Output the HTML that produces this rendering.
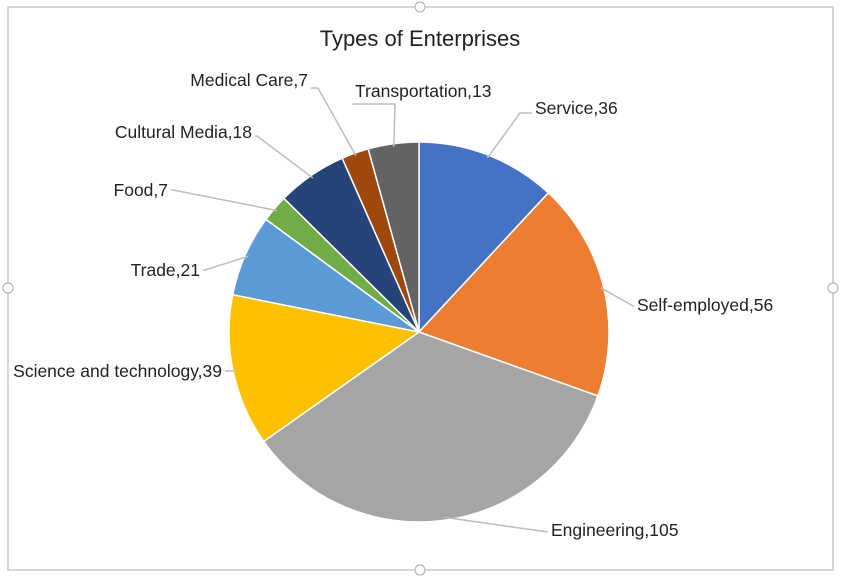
<!DOCTYPE html>
<html><head><meta charset="utf-8"><style>
body{margin:0;background:#fff;}
svg{display:block;font-family:"Liberation Sans",sans-serif;}
</style></head><body>
<svg id="chart" width="850" height="577">
<rect x="8" y="7" width="825" height="563" fill="#fff" stroke="#c8c8c8" stroke-width="1.5"/>
<circle cx="420" cy="7" r="5" fill="#fff" stroke="#aaa"/>
<circle cx="420" cy="570" r="5" fill="#fff" stroke="#aaa"/>
<circle cx="8" cy="288" r="5" fill="#fff" stroke="#aaa"/>
<circle cx="833" cy="288" r="5" fill="#fff" stroke="#aaa"/>
<text x="420" y="46" text-anchor="middle" font-size="22" fill="#222">Types of Enterprises</text>
<g id="slices"></g>
<g id="labels"></g>
</svg>
<script>
const categories=["Service","Self-employed","Engineering","Science and technology","Trade","Food","Cultural Media","Medical Care","Transportation"];
const values=[36,56,105,39,21,7,18,7,13];
const colors=["#4472c4","#ed7d31","#a5a5a5","#ffc000","#5b9bd5","#70ad47","#264478","#9e480e","#636363"];
const labelPos=[[535,114,"start"],[637,311,"start"],[551,536,"start"],[222,377,"end"],[200,276,"end"],[168,196,"end"],[252,138,"end"],[308,86,"end"],[355,97,"start"]];
const elbows=[[520,113],[633,306],[548,532],[228,371],[205,270],[173,190],[257,136],[318,88],[395,104]];
const cx=419,cy=332,r=190;
const ns="http://www.w3.org/2000/svg";
const total=values.reduce((a,b)=>a+b,0);
let a0=-Math.PI/2;
const sg=document.getElementById('slices'),lg=document.getElementById('labels');
values.forEach((v,i)=>{
  const a1=a0+v/total*2*Math.PI;
  const x0=cx+r*Math.cos(a0),y0=cy+r*Math.sin(a0),x1=cx+r*Math.cos(a1),y1=cy+r*Math.sin(a1);
  const p=document.createElementNS(ns,'path');
  p.setAttribute('d',`M${cx},${cy}L${x0},${y0}A${r},${r} 0 ${a1-a0>Math.PI?1:0} 1 ${x1},${y1}Z`);
  p.setAttribute('fill',colors[i]);p.setAttribute('stroke','#fff');p.setAttribute('stroke-width','1.5');
  
  
  sg.appendChild(p);
  const am=(a0+a1)/2;
  const ex=cx+(r-3)*Math.cos(am),ey=cy+(r-3)*Math.sin(am);
  const [lx,ly,anc]=labelPos[i];const [bx,by]=elbows[i];
  const l=document.createElementNS(ns,'polyline');
  const tx=anc==="end"?lx+3:lx-3;
  l.setAttribute('points',`${ex},${ey} ${bx},${by} ${tx},${by}`);
  l.setAttribute('fill','none');l.setAttribute('stroke','#bdbdbd');l.setAttribute('stroke-width','1.5');
  
  
  lg.appendChild(l);
  const t=document.createElementNS(ns,'text');
  t.setAttribute('x',lx);t.setAttribute('y',ly);t.setAttribute('text-anchor',anc);
  t.setAttribute('font-size','17.5');t.setAttribute('fill','#222');
  t.textContent=categories[i]+","+v;
  
  
  lg.appendChild(t);
  a0=a1;
});
</script>
</body></html>
